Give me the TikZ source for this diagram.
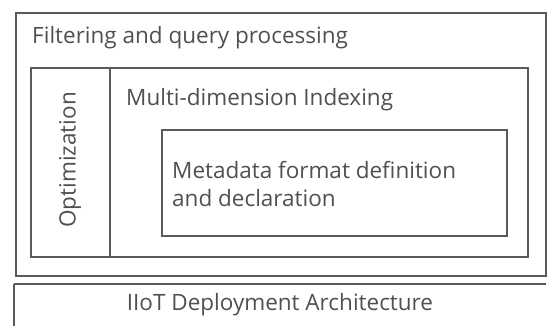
\documentclass[tikz,border=0pt]{standalone}
\usepackage{fontspec}
\setmainfont{Open Sans}
\definecolor{ln}{HTML}{5A5A5A}
\definecolor{tx}{HTML}{505050}
\begin{document}
\begin{tikzpicture}[x=1pt,y=-1pt,
  box/.style={draw=ln,line width=1.6pt},
  lbl/.style={text=tx,font=\fontsize{22.5}{28}\selectfont,inner sep=0pt}]
\useasboundingbox (0,0) rectangle (547,326);
\fill[white] (0,0) rectangle (547,326);
\draw[box] (16,13) rectangle (546,276);
\draw[box] (31,68) rectangle (528,257);
\draw[box] (110,68) -- (110,257);
\draw[box] (162,130) rectangle (507,236);
\draw[box] (14,284) -- (546,284);
\draw[box] (14,284) -- (14,330);
\node[lbl,anchor=west] (f) at (32,38) {Filtering and query processing};
\node[lbl,anchor=west] (m) at (126,100) {Multi-dimension Indexing};
\node[lbl,anchor=west,align=left] (d) at (172,184) {Metadata format definition\\and declaration};
\node[lbl,rotate=90] (o) at (70,160) {Optimization};
\node[lbl] (i) at (280,305) {IIoT Deployment Architecture};
\end{tikzpicture}
\end{document}
